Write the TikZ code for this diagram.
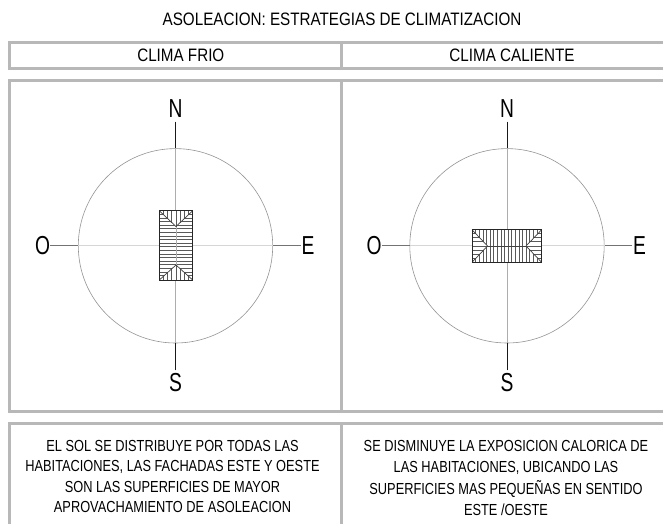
\documentclass[tikz,border=0pt]{standalone}
\usepackage{fontspec}
\setmainfont[FakeStretch=0.845]{Liberation Sans}
\newfontfamily\notefont[FakeStretch=0.80]{Liberation Sans}
\newfontfamily\cardfont[FakeStretch=0.74]{Liberation Sans}
\definecolor{framegray}{gray}{0.72}
\tikzset{
  frame/.style={draw=framegray,line width=3pt},
  axish/.style={draw=black!16,line width=1pt},
  axisv/.style={draw=black!32,line width=0.8pt},
  tickh/.style={draw=black!55,line width=1.1pt},
  tickv/.style={draw=black!90,line width=0.8pt},
  ring/.style={draw=black!42,line width=0.6pt},
  hatchline/.style={draw=black!65,line width=0.55pt},
  ridge/.style={draw=black!75,line width=0.7pt},
  roof/.style={draw=black!85,line width=1pt},
  cardinal/.style={font=\cardfont\fontsize{26}{26}\selectfont,inner sep=0pt,text=black},
  title/.style={font=\fontsize{18}{18}\selectfont,inner sep=0pt,text=black},
  note/.style={font=\notefont\fontsize{16}{20.5}\selectfont,inner sep=0pt,align=center,text=black},
}
\begin{document}
\begin{tikzpicture}[x=1pt,y=-1pt]
\useasboundingbox (0,0) rectangle (663,523);
\fill[white] (0,0) rectangle (663,523);
% frames
\draw[frame] (9.5,42.7) rectangle (680,68.3);
\draw[frame] (341,42.7) -- (341,68.3);
\draw[frame] (9.5,80.5) rectangle (680,411);
\draw[frame] (341,80.5) -- (341,411);
\draw[frame] (9.5,423) rectangle (680,540);
\draw[frame] (341,423) -- (341,540);
% titles
\node[title] (t) at (342,19.5) {ASOLEACION: ESTRATEGIAS DE CLIMATIZACION};
\node[title] (h1) at (180.8,55.5) {CLIMA FRIO};
\node[title] (h2) at (512,55.5) {CLIMA CALIENTE};
% left compass
\node[cardinal,minimum height=25pt] (n1) at (175.5,109) {N};
\node[cardinal,minimum height=25pt] (s1) at (175.5,383) {S};
\node[cardinal,minimum width=15pt] (o1) at (42.7,245.8) {O};
\node[cardinal,minimum width=14pt] (e1) at (308,245.8) {E};
\node[circle,ring,minimum size=194.4pt,inner sep=0pt] (c1) at (175.5,245.8) {};
\draw[axisv] (c1.north) -- (c1.south);
\draw[axish] (c1.west) -- (c1.east);
\draw[tickv] (n1.south) -- (c1.north);
\draw[tickv] (s1.north) -- (c1.south);
\draw[tickh] (o1.east) -- (c1.west);
\draw[tickh] (e1.west) -- (c1.east);
% left house
\fill[white] (159.3,210.7) rectangle (192.7,280);
\foreach \y in {214.2,217.8,...,277.5} {
  \draw[hatchline] (159.3,\y) -- (192.7,\y);
}
\fill[white] (159.3,210.7) -- (192.7,210.7) -- (176,226.5) -- cycle;
\fill[white] (159.3,280) -- (192.7,280) -- (176,265) -- cycle;
\foreach \x/\d in {163.5/4.2,167.5/8.2,171.5/12.2,176/15.8,180.5/12.2,184.5/8.2,188.5/4.2} {
  \draw[hatchline] (\x,210.7) -- (\x,210.7+\d);
  \draw[hatchline] (\x,280) -- (\x,280-\d);
}
\draw[ridge] (159.3,210.7) -- (176,226.5) -- (192.7,210.7);
\draw[ridge] (159.3,280) -- (176,265) -- (192.7,280);
\draw[axisv] (176,226.5) -- (176,265);
\node[roof,minimum width=33.4pt,minimum height=69.3pt,inner sep=0pt] (h1box) at (176,245.35) {};
% right compass
\node[cardinal,minimum height=25pt] (n2) at (507,109) {N};
\node[cardinal,minimum height=25pt] (s2) at (507,383) {S};
\node[cardinal,minimum width=15pt] (o2) at (374.2,245.8) {O};
\node[cardinal,minimum width=14pt] (e2) at (639.5,245.8) {E};
\node[circle,ring,minimum size=194.4pt,inner sep=0pt] (c2) at (507,245.8) {};
\draw[axisv] (c2.north) -- (c2.south);
\draw[axish] (c2.west) -- (c2.east);
\draw[tickv] (n2.south) -- (c2.north);
\draw[tickv] (s2.north) -- (c2.south);
\draw[tickh] (o2.east) -- (c2.west);
\draw[tickh] (e2.west) -- (c2.east);
% right house
\fill[white] (472,229.7) rectangle (541.7,262.3);
\foreach \x in {475.6,479.2,...,539} {
  \draw[hatchline] (\x,229.7) -- (\x,262.3);
}
\fill[white] (472,229.7) -- (472,262.3) -- (487.5,246) -- cycle;
\fill[white] (541.7,229.7) -- (541.7,262.3) -- (526,246) -- cycle;
\foreach \y/\d in {233.7/4,237.7/8,241.7/12,246/15.5,250.2/12,254.2/8,258.2/4} {
  \draw[hatchline] (472,\y) -- (472+\d,\y);
  \draw[hatchline] (541.7,\y) -- (541.7-\d,\y);
}
\draw[ridge] (472,229.7) -- (487.5,246) -- (472,262.3);
\draw[ridge] (541.7,229.7) -- (526,246) -- (541.7,262.3);
\draw[ridge] (487.5,246) -- (526,246);
\node[roof,minimum width=69.7pt,minimum height=32.6pt,inner sep=0pt] (h2box) at (506.85,246) {};
% notes
\node[note] (a) at (172.5,476.5) {EL SOL SE DISTRIBUYE POR TODAS LAS\\HABITACIONES, LAS FACHADAS ESTE Y OESTE\\SON LAS SUPERFICIES DE MAYOR\\APROVACHAMIENTO DE ASOLEACION};
\node[note] (b) at (506,478) {SE DISMINUYE LA EXPOSICION CALORICA DE\\LAS HABITACIONES, UBICANDO LAS\\[2pt]SUPERFICIES MAS PEQUEÑAS EN SENTIDO\\ESTE /OESTE};
\end{tikzpicture}
\end{document}
